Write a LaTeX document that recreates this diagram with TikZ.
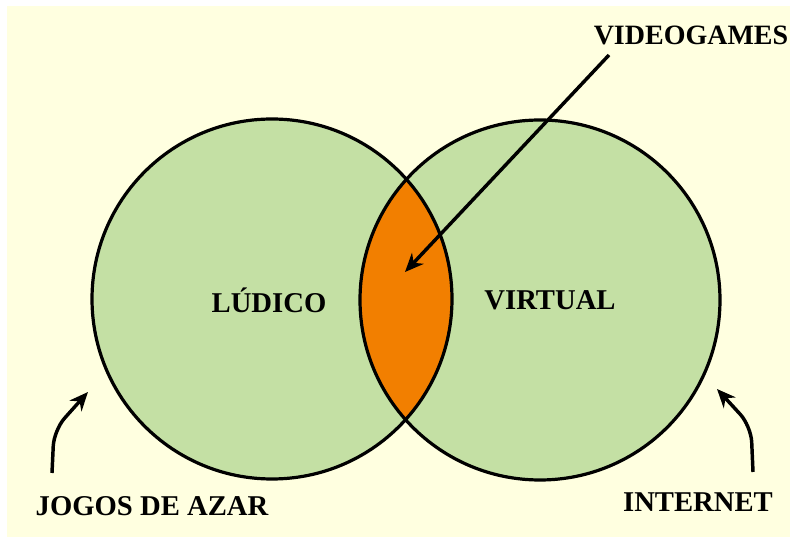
\documentclass[tikz,border=0pt]{standalone}
\usepackage{fontspec}
\setmainfont{Liberation Serif}
\usetikzlibrary{arrows.meta}
\definecolor{paper}{HTML}{FFFFE0}
\definecolor{leaf}{HTML}{C4E0A4}
\definecolor{fruit}{HTML}{F27F00}
\tikzset{
  lbl/.style={font=\bfseries\fontsize{21.5}{25}\selectfont},
  pointer/.style={line width=2.6pt,rounded corners=12pt,-{Stealth[length=14pt,width=12pt]}},
}
\begin{document}
\begin{tikzpicture}[x=0.75pt,y=-0.75pt]
    \useasboundingbox (0,0) rectangle (793,541);
    \fill[paper] (7,6) rectangle (790,537);
    \def\r{180}
    \coordinate (C0) at (272,299);
    \coordinate (C1) at (540,300);
    \fill[leaf] (C0) circle[radius=\r];
    \fill[leaf] (C1) circle[radius=\r];
    \begin{scope}
      \clip (C0) circle[radius=\r];
      \fill[fruit] (C1) circle[radius=\r];
    \end{scope}
    \draw[line width=2.4pt] (C0) circle[radius=\r];
    \draw[line width=2.4pt] (C1) circle[radius=\r];
    \node[lbl] (A0_0) at (269,300) {LÚDICO};
    \node[lbl] (A0_1) at (550,300) {VIRTUAL};
    \node[lbl,font=\bfseries\fontsize{21}{25}\selectfont] (A1_0) at (691,35) {VIDEOGAMES};
    \node[lbl] (A2_0) at (152,506) {JOGOS DE AZAR};
    \node[lbl] (A2_1) at (698,502) {INTERNET};
    \coordinate (P0) at (609,55);
    \coordinate (P1) at (405,272);
    \coordinate (P2) at (52,473);
    \coordinate (P3) at (88,392);
    \coordinate (P4) at (753,472);
    \coordinate (P5) at (717,389);
    \draw[pointer] (P0) -- (P1);
    \draw[pointer] (P2) -- (54,430) -- (P3);
    \draw[pointer] (P4) -- (751,426) -- (P5);
  \end{tikzpicture}
\end{document}
